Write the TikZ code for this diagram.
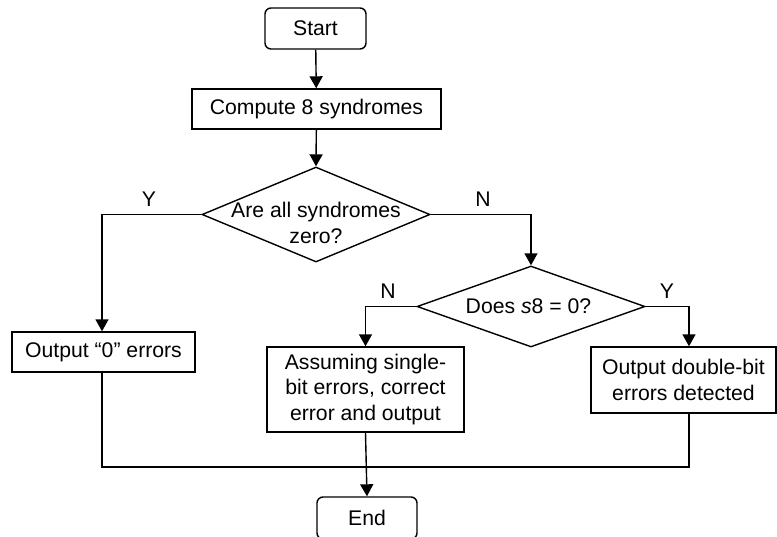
\documentclass[tikz,border=0pt]{standalone}
\usepackage{fontspec}
\setmainfont{Liberation Sans}
\usetikzlibrary{shapes.geometric,arrows.meta}
\newcommand{\fcfont}{\fontsize{21.2}{25.5}\selectfont}
\begin{document}
\begin{tikzpicture}[x=1pt,y=-1pt,line width=1.4pt,
  box/.style={draw,rectangle,inner sep=0pt,align=center,font=\fcfont},
  term/.style={box,rounded corners=6pt},
  dec/.style={draw,diamond,inner sep=0pt},
  lbl/.style={font=\fcfont,inner sep=0pt,align=center},
  arr/.style={-{Triangle[length=12pt,width=13pt]}}]
\useasboundingbox (0,0) rectangle (777,536);
\node[term,minimum width=101pt,minimum height=41pt] (start) at (315.5,28.5) {Start};
\node[box,minimum width=249pt,minimum height=40pt] (comp) at (316.5,109) {Compute 8 syndromes};
\node[dec,minimum width=228pt,minimum height=95pt] (d1) at (316,214.5) {};
\node[lbl] (d1t) at (316,223) {Are all syndromes\\zero?};
\node[dec,minimum width=228pt,minimum height=81pt] (d2) at (531,306.5) {};
\node[lbl] (d2t) at (528.5,306) {Does \textit{s}8 = 0?};
\node[box,minimum width=183pt,minimum height=40pt] (o0) at (103.5,352) {Output “0” errors};
\node[box,minimum width=197pt,minimum height=85pt] (as) at (365.5,389.5) {Assuming single-\\bit errors, correct\\error and output};
\node[box,minimum width=185pt,minimum height=66pt] (db) at (683.5,380) {Output double-bit\\errors detected};
\node[term,minimum width=100pt,minimum height=42pt] (end) at (367,518) {End};
\node[lbl] (ly1) at (149,199) {Y};
\node[lbl] (ln1) at (483,199) {N};
\node[lbl] (ln2) at (388,291) {N};
\node[lbl] (ly2) at (667,291) {Y};
\coordinate (m) at (366,467);
\draw[arr] (start) -- (comp);
\draw[arr] (comp) -- (d1.north);
\draw[arr] (d1.west) -| ([xshift=-1.5pt]o0.north);
\draw[arr] (d1.east) -| (d2.north);
\draw[arr] (d2.west) -| (as.north);
\draw[arr] (d2.east) -| ([xshift=5.5pt]db.north);
\draw[arr] (as.south) -- (end.north);
\draw ([xshift=-1.5pt]o0.south) |- (m);
\draw ([xshift=5.5pt]db.south) |- (m);
\end{tikzpicture}
\end{document}
